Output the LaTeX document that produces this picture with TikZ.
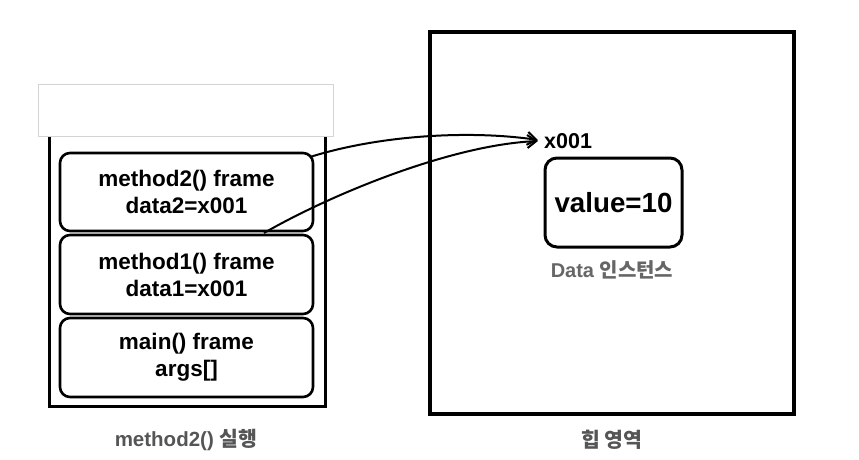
\documentclass[tikz,border=0pt]{standalone}
\usepackage{fontspec}
\setmainfont{Liberation Sans}
\newfontfamily\krfont{Noto Sans CJK KR}
\usetikzlibrary{arrows.meta}
\definecolor{labelgray}{HTML}{555555}
\definecolor{instgray}{HTML}{666666}
\definecolor{ghostgray}{HTML}{D4D4D4}
\begin{document}
\begin{tikzpicture}[x=1pt,y=-1pt,
  box/.style={draw=black,line width=3pt},
  framebox/.style={draw=black,line width=2.6pt,rounded corners=10pt,fill=white,
    minimum width=253pt,align=center,inner sep=0pt,
    font=\fontsize{22.5}{27}\selectfont\bfseries},
  caption/.style={text=labelgray,font=\fontsize{20.5}{22}\selectfont\bfseries},
  ref/.style={line width=2pt,-{Straight Barb[length=9pt,width=13pt,line width=2pt]}}]
\useasboundingbox (0,0) rectangle (859,460);
% stack
\draw[box] (49,120) rectangle (325,406);
\node[draw=ghostgray,line width=0.8pt,fill=white,minimum width=295pt,minimum height=52pt,inner sep=0pt] (ghost) at (185.5,110) {};
\node[framebox,minimum height=78pt] (m2) at (186.5,192) {method2() frame\\data2=x001};
\node[framebox,minimum height=79pt] (m1) at (186.5,274.5) {method1() frame\\data1=x001};
\node[framebox,minimum height=79pt] (mn) at (186.5,357.5) {main() frame\\args[]};
% heap
\draw[box,line width=3.4pt] (430,32) rectangle (794,414);
\node[draw=black,line width=3pt,rounded corners=12pt,minimum width=137pt,minimum height=89pt,inner sep=0pt,
  font=\fontsize{27.7}{30}\selectfont\bfseries] (val) at (613.5,202.5) {value=10};
\node[anchor=west,inner sep=0pt,font=\fontsize{21.5}{24}\selectfont\bfseries] (addr) at (544,141) {x001};
\node[text=instgray,font=\fontsize{20}{22}\selectfont\bfseries] (inst) at (612,270) {Data {\krfont\bfseries 인스턴스}};
% captions
\node[caption] (cap1) at (186,440) {method2() {\krfont\bfseries 실행}};
\node[caption] (cap2) at (612,440) {{\krfont\bfseries 힙 영역}};
% references
\coordinate (s1) at (310,157);
\coordinate (s2) at (264,233);
\coordinate (t1) at (538,140);
\coordinate (t2) at (538,141);
\draw[ref] (s1) .. controls (380,135) and (470,130) .. (t1);
\draw[ref] (s2) .. controls (330,195) and (450,145) .. (t2);
\end{tikzpicture}
\end{document}
